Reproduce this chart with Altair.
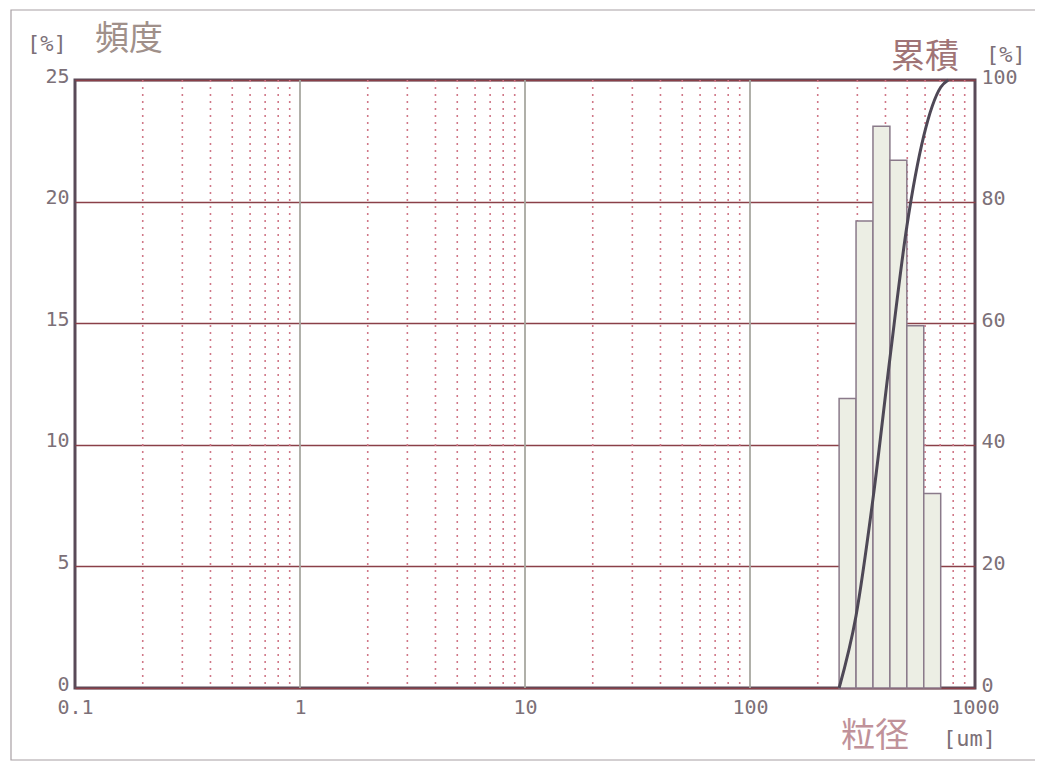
import altair as alt
import pandas as pd

# ---- data ----
bin_lo = [248.9, 296.0, 352.0, 418.6, 497.8, 592.0]
bin_hi = [296.0, 352.0, 418.6, 497.8, 592.0, 704.0]
freq = [11.9, 19.2, 23.1, 21.7, 14.9, 8.0]

cum_size = [248.9, 296.0, 352.0, 418.6, 497.8, 592.0, 704.0, 760.0]
cum_pct = [0.0, 11.9, 31.1, 54.2, 75.9, 90.8, 98.8, 100.0]

x_ticks = [0.1, 1, 10, 100, 1000]
major_grid = [1, 10, 100]
minor_grid = [0.2, 0.3, 0.4, 0.5, 0.6, 0.7, 0.8, 0.9,
              2, 3, 4, 5, 6, 7, 8, 9,
              20, 30, 40, 50, 60, 70, 80, 90,
              200, 300, 400, 500, 600, 700, 800, 900]
left_ticks = [0, 5, 10, 15, 20, 25]
right_ticks = [0, 20, 40, 60, 80, 100]

NUM_FONT = "DejaVu Sans Mono"
CJK_FONT = "Noto Sans CJK JP"
NUM_COLOR = "#7c7078"

bars_df = pd.DataFrame({"lo": bin_lo, "hi": bin_hi, "freq": freq})
cum_df = pd.DataFrame({"size": cum_size, "cum": cum_pct})
minor_df = pd.DataFrame({"v": minor_grid})
major_df = pd.DataFrame({"v": major_grid})
one = pd.DataFrame({"a": [0]})

xscale = alt.Scale(type="log", domain=[0.1, 1000], nice=False)
xaxis = alt.Axis(values=x_ticks, labelExpr="datum.value >= 1 ? format(datum.value, 'd') : '0.1'",
                 domain=False, ticks=False, grid=False, labelFont=NUM_FONT,
                 labelFontSize=20, labelColor=NUM_COLOR, labelPadding=9, title=None,
                 labelFlush=False)

minor = alt.Chart(minor_df).mark_rule(color="#d07888", strokeWidth=1.6,
                                      strokeDash=[2, 5]).encode(
    x=alt.X("v:Q", scale=xscale, axis=xaxis, title=None))
major = alt.Chart(major_df).mark_rule(color="#a8a8a0", strokeWidth=1.8).encode(
    x=alt.X("v:Q", scale=xscale, axis=xaxis, title=None))

bars = alt.Chart(bars_df).mark_rect(fill="#eceee4", stroke="#8a7a8a",
                                    strokeWidth=1.5).encode(
    x=alt.X("lo:Q", scale=xscale, axis=xaxis, title=None),
    x2="hi:Q",
    y=alt.Y("freq:Q", scale=alt.Scale(domain=[0, 25], nice=False),
            axis=alt.Axis(values=left_ticks, orient="left", domain=False, ticks=False,
                          grid=True, gridColor="#8a4048", gridWidth=1.5,
                          labelFont=NUM_FONT, labelFontSize=20, labelColor=NUM_COLOR,
                          labelPadding=6, labelOffset=-4, title=None)),
)

curve = alt.Chart(cum_df).mark_line(color="#4e4856", strokeWidth=3,
                                    interpolate="monotone").encode(
    x=alt.X("size:Q", scale=xscale, axis=xaxis, title=None),
    y=alt.Y("cum:Q", scale=alt.Scale(domain=[0, 100], nice=False),
            axis=alt.Axis(values=right_ticks, orient="right", domain=False, ticks=False,
                          grid=False, labelFont=NUM_FONT, labelFontSize=20,
                          labelColor=NUM_COLOR, labelPadding=6, labelOffset=-3,
                          title=None)),
)

def label(txt, x, y, font, size, color):
    return alt.Chart(one).mark_text(text=txt, font=font, fontSize=size, color=color,
                                    align="left", baseline="middle").encode(
        x=alt.value(x), y=alt.value(y))

titles = [
    label("[%]", -48, -36, NUM_FONT, 22, NUM_COLOR),
    label("頻度", 20, -40, CJK_FONT, 34, "#a0908a"),
    label("累積", 816, -22, CJK_FONT, 34, "#a07476"),
    label("[%]", 911, -25, NUM_FONT, 22, NUM_COLOR),
    label("粒径", 766, 657, CJK_FONT, 34, "#c0929a"),
    label("[um]", 868, 659, NUM_FONT, 22, NUM_COLOR),
]

frame = alt.Chart(one).mark_rect(fillOpacity=0, stroke="#a8a0a4", strokeWidth=1.2).encode(
    x=alt.value(-64), x2=alt.value(962), y=alt.value(-70), y2=alt.value(680))

chart = alt.layer(minor, major, bars, curve, frame, *titles).resolve_scale(
    y="independent"
).properties(
    width=900, height=608,
    autosize=alt.AutoSizeParams(type="none"),
    padding={"left": 67, "top": 72, "right": 60, "bottom": 78},
    background="white",
).configure_view(stroke="#5a4a58", strokeWidth=3)

chart.save("out.html", embed_options={"renderer": "svg", "actions": False})
